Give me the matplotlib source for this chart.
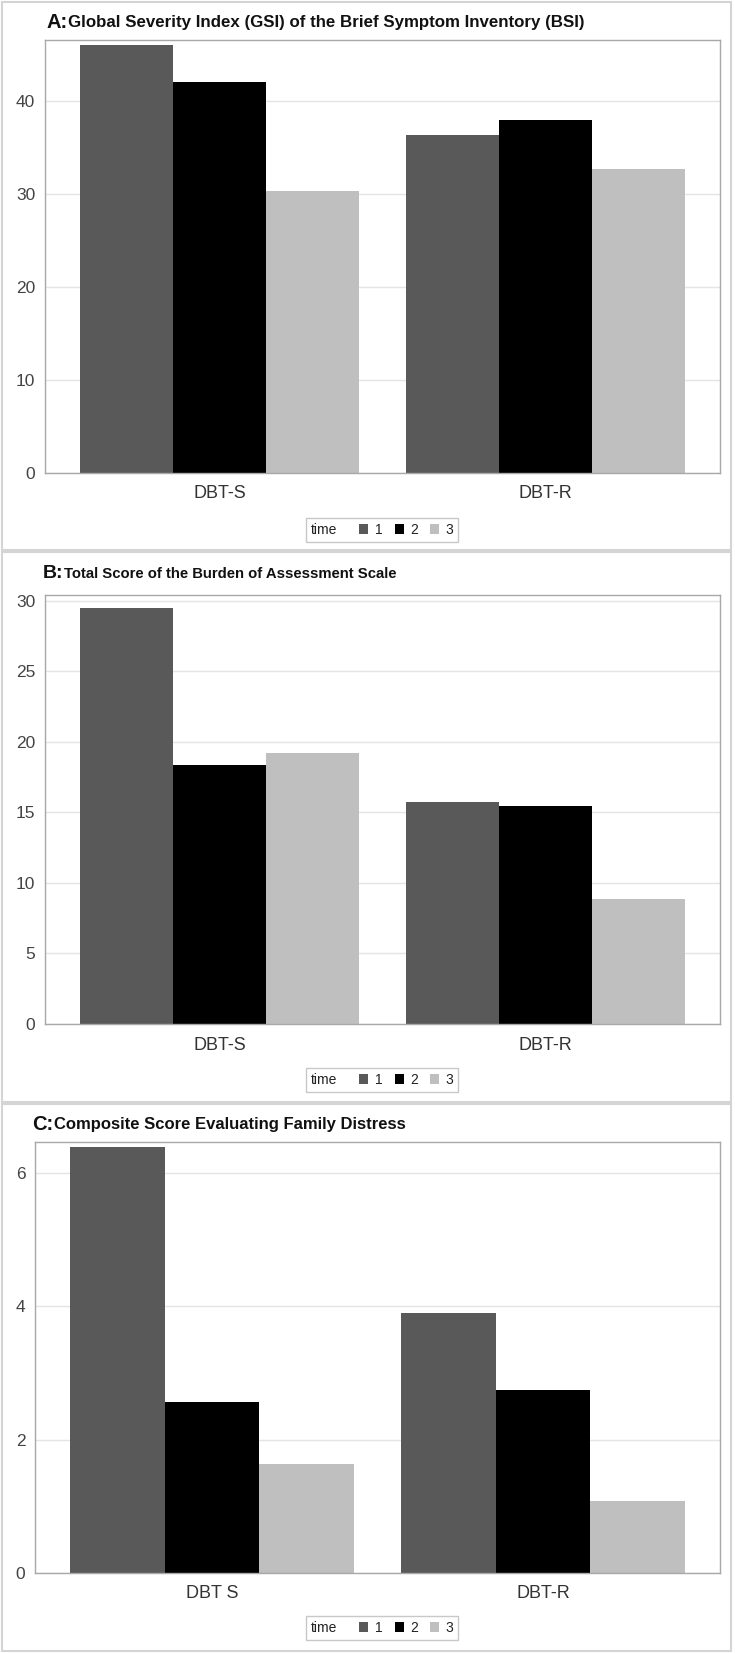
import matplotlib
matplotlib.use('Agg')
import matplotlib.pyplot as plt
from matplotlib.patches import Rectangle, Patch
from matplotlib.offsetbox import HPacker
import numpy as np

# ---------------- data ----------------
categories_ab = ['DBT-S', 'DBT-R']
categories_c = ['DBT S', 'DBT-R']
time_labels = ['1', '2', '3']
time_colors = ['#595959', '#000000', '#bfbfbf']

# A: Global Severity Index
gsi_t1 = [46.0, 36.3]
gsi_t2 = [42.0, 37.95]
gsi_t3 = [30.3, 32.65]
gsi_ticks = [0, 10, 20, 30, 40]

# B: Burden of Assessment Scale
bas_t1 = [29.5, 15.7]
bas_t2 = [18.35, 15.45]
bas_t3 = [19.2, 8.85]
bas_ticks = [0, 5, 10, 15, 20, 25, 30]

# C: Family Distress
fd_t1 = [6.38, 3.9]
fd_t2 = [2.56, 2.75]
fd_t3 = [1.63, 1.08]
fd_ticks = [0, 2, 4, 6]

W, H = 735, 1653
fig = plt.figure(figsize=(W / 100, H / 100), dpi=100)
plt.rcParams['font.family'] = ['Liberation Sans', 'DejaVu Sans']


def fx(px):
    return px / W


def fy(py):
    return 1 - py / H


renderer = fig.canvas.get_renderer()


def panel_border(top, bottom):
    r = Rectangle((fx(2), fy(bottom)), fx(731) - fx(2), fy(top) - fy(bottom),
                  transform=fig.transFigure, fill=False, edgecolor='#d4d4d4',
                  linewidth=1.5)
    fig.patches.append(r)


def title(letter, text, x, y, letter_size=14, text_size=11):
    t1 = fig.text(fx(x), fy(y), letter + ':', fontsize=letter_size,
                  fontweight='bold', va='center', ha='left', color='#111111')
    bb = t1.get_window_extent(renderer)
    fig.text(bb.x1 / W + fx(1), fy(y), text, fontsize=text_size,
             fontweight='bold', va='center', ha='left', color='#111111')


def draw_panel(rect, cats, series, ticks, ylim, legend_y):
    left, top, right, bottom = rect
    ax = fig.add_axes([fx(left), fy(bottom), fx(right) - fx(left), fy(top) - fy(bottom)])
    x = np.arange(len(cats))
    w = 2 / 7
    for i, (vals, col) in enumerate(zip(series, time_colors)):
        ax.bar(x + (i - 1) * w, vals, width=w, color=col, edgecolor='none',
               zorder=2, label=time_labels[i])
    ax.set_xlim(-0.535, 1.535)
    ax.set_ylim(*ylim)
    ax.set_yticks(ticks)
    ax.set_xticks(x)
    ax.set_xticklabels(cats, fontsize=13, color='#333333')
    ax.tick_params(axis='y', length=0, pad=7, labelsize=12.5, labelcolor='#444444')
    ax.tick_params(axis='x', length=0, pad=9)
    ax.yaxis.grid(True, color='#e4e4e4', linewidth=1, zorder=0)
    ax.set_axisbelow(True)
    for s in ax.spines.values():
        s.set_color('#a8a8a8')
        s.set_linewidth(1)
    handles = [Patch(facecolor=c, edgecolor='none') for c in time_colors]
    leg = ax.legend(handles, time_labels, title='time', ncol=3, loc='center',
                    bbox_to_anchor=(fx(382), fy(legend_y)),
                    bbox_transform=fig.transFigure, fontsize=10, title_fontsize=10,
                    handlelength=0.65, handleheight=0.65, handletextpad=0.45,
                    columnspacing=0.9, borderpad=0.35, fancybox=False,
                    edgecolor='#c8c8c8', framealpha=1)
    leg.get_frame().set_linewidth(1)
    for t in leg.get_texts():
        t.set_color('#222222')
    leg.get_title().set_color('#222222')
    try:
        fs = leg._fontsize
        newbox = HPacker(pad=leg.borderpad * fs, sep=1.6 * fs, align='center',
                         children=[leg._legend_title_box, leg._legend_handle_box])
        newbox.set_figure(fig)
        newbox.axes = ax
        leg._legend_box = newbox
        leg._legend_box.set_offset(leg._findoffset)
    except Exception:
        pass
    return ax


# Panel A
panel_border(2, 550)
title('A', 'Global Severity Index (GSI) of the Brief Symptom Inventory (BSI)', 46, 23,
      letter_size=14.5, text_size=12.2)
draw_panel((45, 40, 720, 473), categories_ab, [gsi_t1, gsi_t2, gsi_t3], gsi_ticks,
           (0, 46.56), 530)

# Panel B
panel_border(552, 1102)
title('B', 'Total Score of the Burden of Assessment Scale', 43, 574,
      letter_size=14, text_size=10.7)
draw_panel((45, 595, 720, 1024), categories_ab, [bas_t1, bas_t2, bas_t3], bas_ticks,
           (0, 30.4), 1080)

# Panel C
panel_border(1104, 1651)
title('C', 'Composite Score Evaluating Family Distress', 32, 1125,
      letter_size=14.5, text_size=12)
draw_panel((35, 1142, 720, 1573), categories_c, [fd_t1, fd_t2, fd_t3], fd_ticks,
           (0, 6.46), 1628)

fig.savefig('out.png', dpi=100)
